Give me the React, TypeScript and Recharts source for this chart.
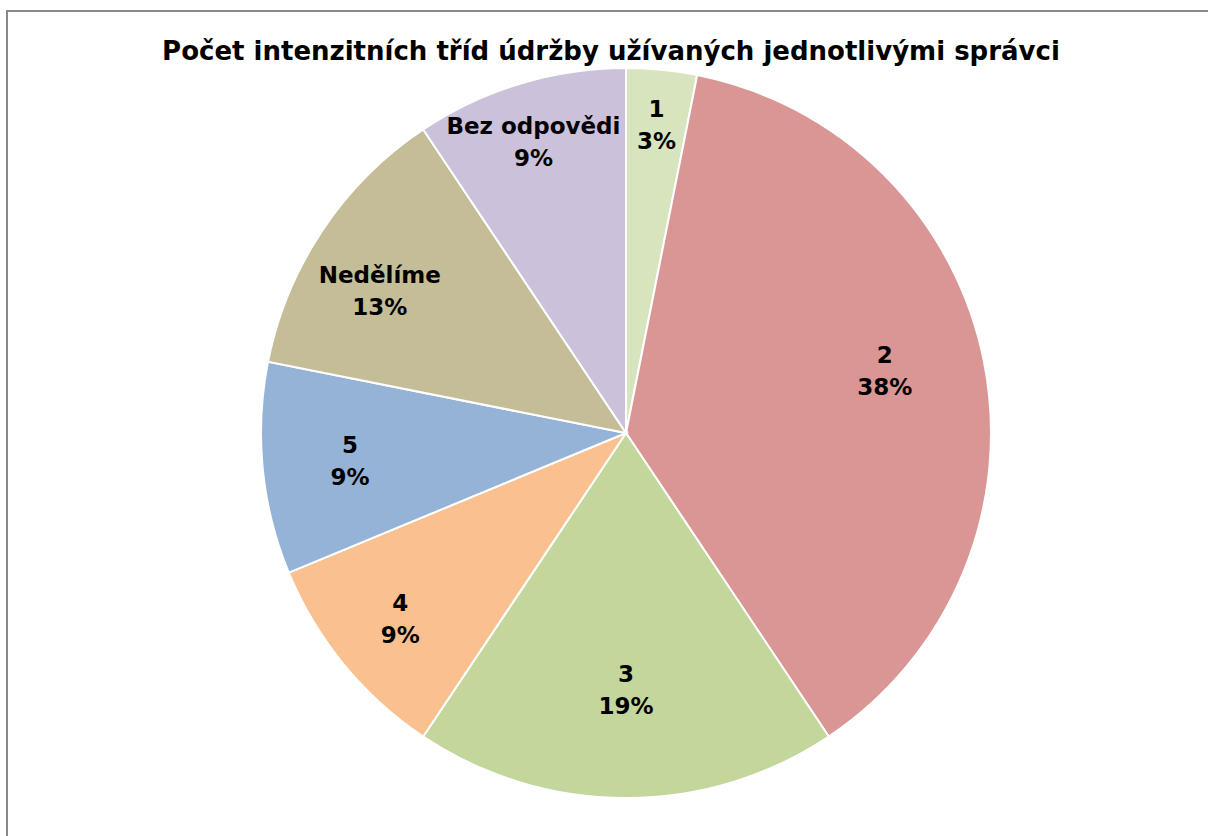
import { PieChart, Pie, Cell } from 'recharts'

const categories = ['1', '2', '3', '4', '5', 'Nedělíme', 'Bez odpovědi']
const counts = [1, 12, 6, 3, 3, 4, 3]
const colors = ['#D7E4BD', '#D99694', '#C3D69B', '#FAC090', '#95B3D7', '#C4BD97', '#CCC1DA']
const title = 'Počet intenzitních tříd údržby užívaných jednotlivými správci'

// label placement (Excel best fit): distance as share of radius, clockwise nudge in degrees
const labelDist = [0.85, 0.73, 0.7, 0.8, 0.76, 0.78, 0.84]
const labelTurn = [0, -2.5, 0, 0, 0, -3.6, -0.7]

const data = categories.map((name, i) => ({ name, value: counts[i] }))

const RAD = Math.PI / 180
const FONT = '"DejaVu Sans", Tahoma, Verdana, sans-serif'

const renderLabel = (props: any) => {
	const { cx, cy, midAngle, outerRadius, index, name, percent } = props
	const r = outerRadius * labelDist[index]
	const a = (midAngle - labelTurn[index]) * RAD
	const x = cx + r * Math.cos(-a)
	const y = cy + r * Math.sin(-a)
	return (
		<text
			x={x}
			y={y}
			textAnchor='middle'
			fontFamily={FONT}
			fontWeight='bold'
			fontSize={23}
			fill='#000'
		>
			<tspan x={x} dy={-7}>
				{name}
			</tspan>
			<tspan x={x} dy={32}>
				{Math.round(percent * 100)}%
			</tspan>
		</text>
	)
}

export default function App() {
	return (
		<div
			style={{
				position: 'fixed',
				left: 6,
				top: 10,
				width: 1220,
				height: 840,
				border: '2px solid #888',
				background: '#fff',
			}}
		>
			<PieChart width={1220} height={840}>
				<text
					x={603}
					y={48}
					textAnchor='middle'
					fontFamily={FONT}
					fontWeight='bold'
					fontSize={26}
					fill='#000'
				>
					{title}
				</text>
				<Pie
					data={data}
					dataKey='value'
					nameKey='name'
					cx={613}
					cy={416}
					outerRadius={365}
					startAngle={90}
					endAngle={-270}
					stroke='#fff'
					strokeWidth={2}
					label={renderLabel}
					labelLine={false}
					isAnimationActive={false}
				>
					{data.map((d, i) => (
						<Cell key={d.name} fill={colors[i]} />
					))}
				</Pie>
			</PieChart>
		</div>
	)
}
